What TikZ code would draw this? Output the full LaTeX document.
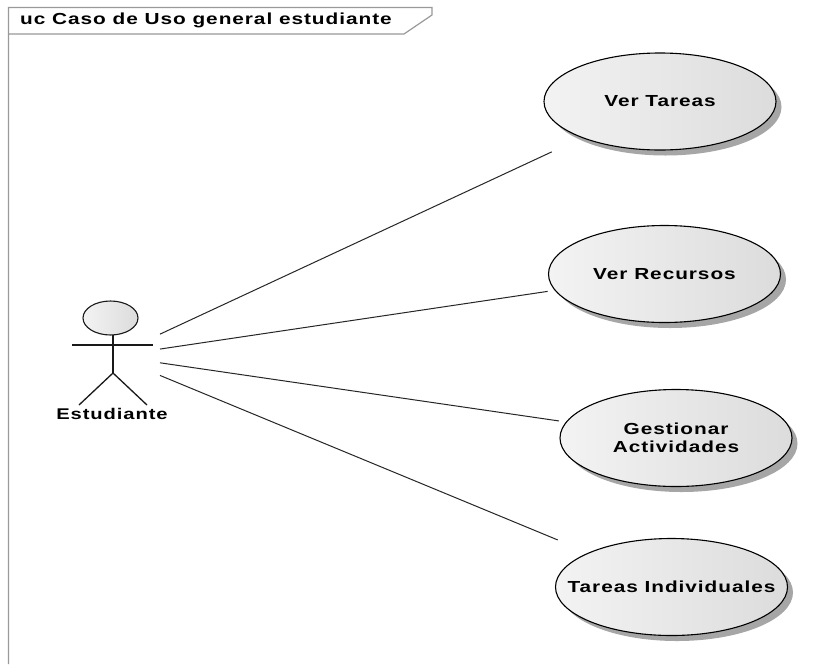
\documentclass[tikz,border=0pt]{standalone}
\usepackage{fontspec}
\setmainfont{Liberation Sans}[FakeStretch=1.3,LetterSpace=6]
\usetikzlibrary{shapes.geometric,shadows}
\definecolor{ugrayA}{HTML}{F3F3F3}
\definecolor{ugrayB}{HTML}{DCDCDC}
\tikzset{
  usecase/.style={ellipse,draw=black,line width=1.1pt,minimum width=232pt,minimum height=97pt,inner sep=0pt,outer sep=7pt,
    left color=ugrayA,middle color=ugrayA,right color=ugrayB,
    drop shadow={shadow xshift=5.5pt,shadow yshift=-5.5pt,fill=black!35,opacity=1},
    font=\bfseries\fontsize{16}{18}\selectfont,align=center},
  assoc/.style={draw=black!85,line width=1pt},
  frameline/.style={draw=black!40,line width=1.2pt},
  stick/.style={draw=black!90,line width=1.3pt}
}
\begin{document}
\begin{tikzpicture}[x=1pt,y=-1pt]
\useasboundingbox (0,0) rectangle (829,664);
\fill[white] (0,0) rectangle (829,664);
\draw[frameline] (8.5,664) -- (8.5,7.5) -- (432,7.5) -- (432,15) -- (404,34) -- (8.5,34);
\node[anchor=west,inner sep=0pt,font=\bfseries\fontsize{16}{18}\selectfont] (title) at (20,20) {uc Caso de Uso general estudiante};
\node[usecase] (u1) at (660,101.5) {\makebox[0pt]{Ver Tareas}};
\node[usecase] (u2) at (664.5,274) {\makebox[0pt]{Ver Recursos}};
\node[usecase] (u3) at (676,438) {\makebox[0pt]{Gestionar}\\\makebox[0pt]{Actividades}};
\node[usecase] (u4) at (671.5,587) {\makebox[0pt]{Tareas Individuales}};
\node[ellipse,draw=black!90,line width=1.1pt,minimum width=55pt,minimum height=34pt,inner sep=0pt,left color=ugrayA,right color=ugrayB] (head) at (110.5,318) {};
\coordinate (neck) at (113,335);
\coordinate (hip) at (113,373);
\coordinate (handl) at (72,345);
\coordinate (handr) at (153,345);
\coordinate (footl) at (79,405);
\coordinate (footr) at (147,405);
\draw[stick] (neck) -- (hip);
\draw[stick] (handl) -- (handr);
\draw[stick] (hip) -- (footl);
\draw[stick] (hip) -- (footr);
\node[inner sep=0pt,font=\bfseries\fontsize{15.5}{18}\selectfont] (lab) at (112,414) {Estudiante};
\node[rectangle,minimum width=94pt,minimum height=110pt,inner sep=0pt,outer sep=0pt] (actor) at (113,356) {};
\draw[assoc,shorten >=25pt] (actor) -- (u1);
\draw[assoc] (actor) -- (u2);
\draw[assoc] (actor) -- (u3);
\draw[assoc,shorten >=25pt] (actor) -- (u4);
\end{tikzpicture}
\end{document}
